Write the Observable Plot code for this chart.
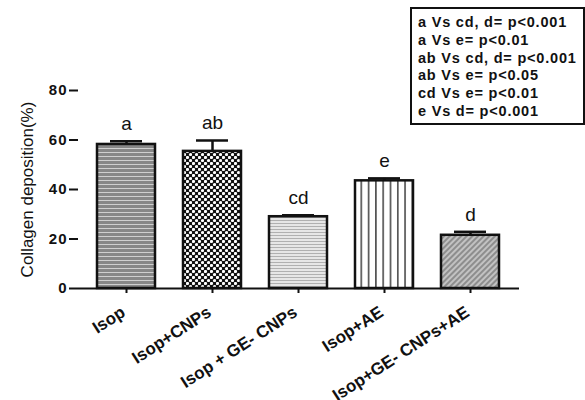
<!DOCTYPE html>
<html>
<head>
<meta charset="utf-8">
<script src="https://cdn.jsdelivr.net/npm/d3@7"></script>
<script src="https://cdn.jsdelivr.net/npm/@observablehq/plot@0.6"></script>
<style>
  body { margin: 0; background: #fff; }
  #wrap { position: relative; width: 585px; height: 400px; overflow: hidden; font-family: "Liberation Sans", Arial, sans-serif; }
  #legend {
    position: absolute; left: 410px; top: 7px; width: 175px; height: 118px;
    box-sizing: border-box; border: 2px solid #111; background: #fff;
    padding: 5px 0 0 6px; font-weight: bold; font-size: 14.5px; line-height: 17.8px;
    letter-spacing: 0.8px; color: #111; white-space: nowrap;
  }
</style>
</head>
<body>
<div id="wrap"><div id="legend"></div></div>
<script>
// ---- data ----
const categories = ["Isop", "Isop+CNPs", "Isop + GE- CNPs", "Isop+AE", "Isop+GE- CNPs+AE"];
const means = [58.2, 55.4, 29.0, 43.5, 21.5];
const sds = [1.3, 4.4, 0.6, 1.0, 1.4];
const letters = ["a", "ab", "cd", "e", "d"];
const yTicks = [0, 20, 40, 60, 80];
const yLabel = "Collagen deposition(%)";
const legendLines = [
  "a Vs cd, d= p<0.001",
  "a Vs e= p<0.01",
  "ab Vs cd, d= p<0.001",
  "ab Vs e= p<0.05",
  "cd Vs e= p<0.01",
  "e Vs d= p<0.001"
];

// ---- styles ----
const fills = ["url(#p0)", "url(#p1)", "url(#p2)", "url(#p3)", "url(#p4)"];
const font = "'Liberation Sans', Arial, sans-serif";

const data = categories.map((c, i) => ({cat: c, mean: means[i], sd: sds[i], top: means[i] + sds[i], letter: letters[i]}));

const barMarks = data.map((d, i) =>
  Plot.barY([d], {x: "cat", y: "mean", fill: fills[i], stroke: "#111", strokeWidth: 2.5})
);

const chart = Plot.plot({
  width: 585,
  height: 400,
  marginLeft: 78,
  marginRight: 66,
  marginTop: 90,
  marginBottom: 112,
  style: {fontFamily: font, color: "#111", background: "transparent"},
  x: {domain: categories, paddingInner: 0.32, paddingOuter: 0.21, label: null},
  y: {domain: [0, 80], label: null},
  marks: [
    ...barMarks,
    Plot.ruleX(data, {x: "cat", y1: "mean", y2: "top", stroke: "#111", strokeWidth: 2.5}),
    Plot.tickY(data, {x: "cat", y: "top", insetLeft: 13, insetRight: 13, stroke: "#111", strokeWidth: 2.5}),
    Plot.text(data, {x: "cat", y: "top", text: "letter", dy: -11, lineAnchor: "bottom", fontSize: 19, fontFamily: font, fill: "#111", ariaLabel: "letters"}),
    Plot.ruleY([0], {stroke: "#111", strokeWidth: 2}),
    Plot.axisX({tickSize: 5, strokeWidth: 2, tickFormat: () => "", label: null}),
    Plot.text(data, {x: "cat", y: () => 0, text: "cat", rotate: -33, textAnchor: "end", lineAnchor: "middle", dx: -3, dy: 22, fontWeight: "bold", fontSize: 17, fontFamily: font, fill: "#111", ariaLabel: "xlabels"}),
    Plot.axisY({ticks: yTicks, tickSize: 9, tickPadding: 2, line: true, strokeWidth: 2, fontSize: 15, fontWeight: "bold", label: null}),
    Plot.text([yLabel], {frameAnchor: "left", textAnchor: "middle", rotate: -90, dx: -51, fontSize: 17, fontFamily: font, fill: "#111", ariaLabel: "ytitle"})
  ]
});

// letter spacing tweaks
const sel = d3.select(chart);
sel.selectAll('g[aria-label="xlabels"]').attr("letter-spacing", "1.2px");
sel.selectAll('g[aria-label="ytitle"]').attr("letter-spacing", "1.7px");
sel.selectAll('g[aria-label="y-axis tick label"]').attr("letter-spacing", "1px");
sel.selectAll('g[aria-label="letters"]').attr("letter-spacing", "1px");

// pattern definitions
const ns = "http://www.w3.org/2000/svg";
const defs = document.createElementNS(ns, "defs");
defs.innerHTML = `
  <pattern id="p0" patternUnits="userSpaceOnUse" width="6" height="4">
    <rect width="6" height="4" fill="#878787"/>
    <line x1="0" y1="0.5" x2="6" y2="0.5" stroke="#cfcfcf" stroke-width="1"/>
  </pattern>
  <pattern id="p1" patternUnits="userSpaceOnUse" width="6" height="6">
    <rect width="6" height="6" fill="#111"/>
    <circle cx="1.5" cy="1.5" r="1.6" fill="#fff"/>
    <circle cx="4.5" cy="4.5" r="1.6" fill="#fff"/>
  </pattern>
  <pattern id="p2" patternUnits="userSpaceOnUse" width="4" height="3">
    <rect width="4" height="3" fill="#f4f4f4"/>
    <line x1="0" y1="1.5" x2="4" y2="1.5" stroke="#b0b0b0" stroke-width="1.4"/>
  </pattern>
  <pattern id="p3" patternUnits="userSpaceOnUse" width="7.3" height="4">
    <rect width="7.3" height="4" fill="#fff"/>
    <line x1="3.6" y1="0" x2="3.6" y2="4" stroke="#222" stroke-width="1.3"/>
  </pattern>
  <pattern id="p4" patternUnits="userSpaceOnUse" width="4" height="4" patternTransform="rotate(45)">
    <rect width="4" height="4" fill="#c2c2c2"/>
    <line x1="1" y1="0" x2="1" y2="4" stroke="#777" stroke-width="1.4"/>
  </pattern>`;
chart.insertBefore(defs, chart.firstChild);

const wrap = document.getElementById("wrap");
wrap.insertBefore(chart, wrap.firstChild);
document.getElementById("legend").innerHTML = legendLines.map(t => `<div>${t}</div>`).join("");
</script>
</body>
</html>
